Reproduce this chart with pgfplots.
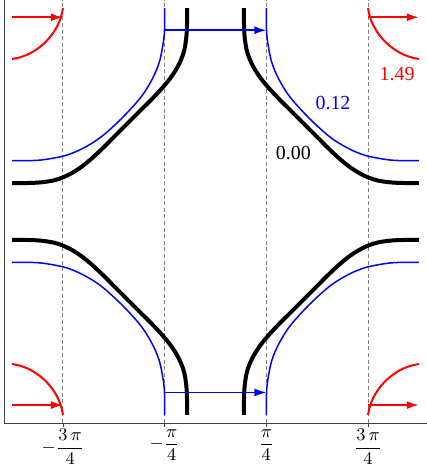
\documentclass[border=0pt]{standalone}
\usepackage{fontspec}
\setmainfont{Liberation Serif}
\usepackage{amsmath}
\usepackage{pgfplots}
\pgfplotsset{compat=1.18}
\usepackage{pgfplotstable}
\usetikzlibrary{arrows.meta}

% contour in the upper left quarter, the others are mirror images
\pgfplotstableread{
x y
-3.1416 0.440
-2.90 0.440
-2.70 0.450
-2.50 0.480
-2.35 0.530
-2.20 0.605
-2.05 0.705
-1.90 0.830
-1.75 0.970
-1.60 1.120
-1.48 1.240
-1.36 1.360
-1.24 1.480
-1.12 1.600
-0.97 1.750
-0.83 1.900
-0.705 2.050
-0.605 2.200
-0.53 2.350
-0.48 2.500
-0.45 2.700
-0.44 2.900
-0.44 3.1416
}\blackTL

\pgfplotstableread{
x y
-3.1416 0.785
-2.90 0.785
-2.70 0.795
-2.50 0.825
-2.30 0.870
-2.10 0.950
-1.90 1.060
-1.75 1.165
-1.60 1.295
-1.4436 1.4436
-1.295 1.600
-1.165 1.750
-1.06 1.900
-0.95 2.100
-0.87 2.300
-0.825 2.500
-0.795 2.700
-0.785 2.900
-0.785 3.1416
}\blueTL

\pgfplotstableread{
x y
-3.1416 2.3566
-3.0408 2.3761
-2.9449 2.4075
-2.8547 2.4490
-2.7707 2.4993
-2.6931 2.5571
-2.6219 2.6219
-2.5571 2.6931
-2.4993 2.7707
-2.4490 2.8547
-2.4075 2.9449
-2.3761 3.0408
-2.3566 3.1416
}\redTL

\begin{document}
\begin{tikzpicture}
\begin{axis}[
    name=ax,
    scale only axis,
    width=211.5bp, height=211.5bp,
    xmin=-3.267, xmax=3.267,
    ymin=-3.267, ymax=3.267,
    axis x line*=bottom, axis y line*=left,
    axis line style={gray!50!black, line width=0.4bp},
    xtick={-2.3562,-0.7854,0.7854,2.3562},
    xticklabels={$-\dfrac{3\,\pi}{4}$,$-\dfrac{\pi}{4}$,$\dfrac{\pi}{4}$,$\dfrac{3\,\pi}{4}$},
    xticklabel style={font=\small, inner sep=1bp},
    ytick=\empty,
    xmajorgrids=true,
    grid style={dash pattern=on 2bp off 1.3bp, gray, line width=0.5bp},
    tick align=outside,
    major tick length=2bp,
    tick style={gray!50!black, line width=0.4bp},
    clip=false,
]
% 0.00
\addplot[black, line width=2bp, smooth, tension=0.55] table[x=x, y=y] {\blackTL};
\addplot[black, line width=2bp, smooth, tension=0.55] table[x expr=-\thisrow{x}, y=y] {\blackTL};
\addplot[black, line width=2bp, smooth, tension=0.55] table[x=x, y expr=-\thisrow{y}] {\blackTL};
\addplot[black, line width=2bp, smooth, tension=0.55] table[x expr=-\thisrow{x}, y expr=-\thisrow{y}] {\blackTL};
% 0.12
\addplot[blue, line width=0.75bp, smooth, tension=0.55] table[x=x, y=y] {\blueTL};
\addplot[blue, line width=0.75bp, smooth, tension=0.55] table[x expr=-\thisrow{x}, y=y] {\blueTL};
\addplot[blue, line width=0.75bp, smooth, tension=0.55] table[x=x, y expr=-\thisrow{y}] {\blueTL};
\addplot[blue, line width=0.75bp, smooth, tension=0.55] table[x expr=-\thisrow{x}, y expr=-\thisrow{y}] {\blueTL};
% 1.49
\addplot[red, line width=1bp, smooth] table[x=x, y=y] {\redTL};
\addplot[red, line width=1bp, smooth] table[x expr=-\thisrow{x}, y=y] {\redTL};
\addplot[red, line width=1bp, smooth] table[x=x, y expr=-\thisrow{y}] {\redTL};
\addplot[red, line width=1bp, smooth] table[x expr=-\thisrow{x}, y expr=-\thisrow{y}] {\redTL};
% nesting vectors
\addplot[blue, line width=0.75bp, -{Latex[length=6bp,width=4bp]}] coordinates {(-0.7854,2.80) (0.7854,2.80)};
\addplot[blue, line width=0.75bp, -{Latex[length=6bp,width=4bp]}] coordinates {(-0.7854,-2.795) (0.7854,-2.795)};
\addplot[red, line width=1bp, -{Latex[length=6bp,width=4bp]}] coordinates {(-3.1416,3.0) (-2.3562,3.0)};
\addplot[red, line width=1bp, -{Latex[length=6bp,width=4bp]}] coordinates {(2.3562,3.0) (3.1416,3.0)};
\addplot[red, line width=1bp, -{Latex[length=6bp,width=4bp]}] coordinates {(-3.1416,-2.99) (-2.3562,-2.99)};
\addplot[red, line width=1bp, -{Latex[length=6bp,width=4bp]}] coordinates {(2.3562,-2.99) (3.1416,-2.99)};
\node[blue] at (axis cs:1.815,1.677) {0.12};
\node[black] at (axis cs:1.202,0.908) {0.00};
\node[red] at (axis cs:2.804,2.126) {1.49};
\end{axis}
\pgfresetboundingbox
\useasboundingbox ([xshift=-2bp,yshift=-21.5bp]ax.south west) rectangle (ax.north east);
\end{tikzpicture}
\end{document}
